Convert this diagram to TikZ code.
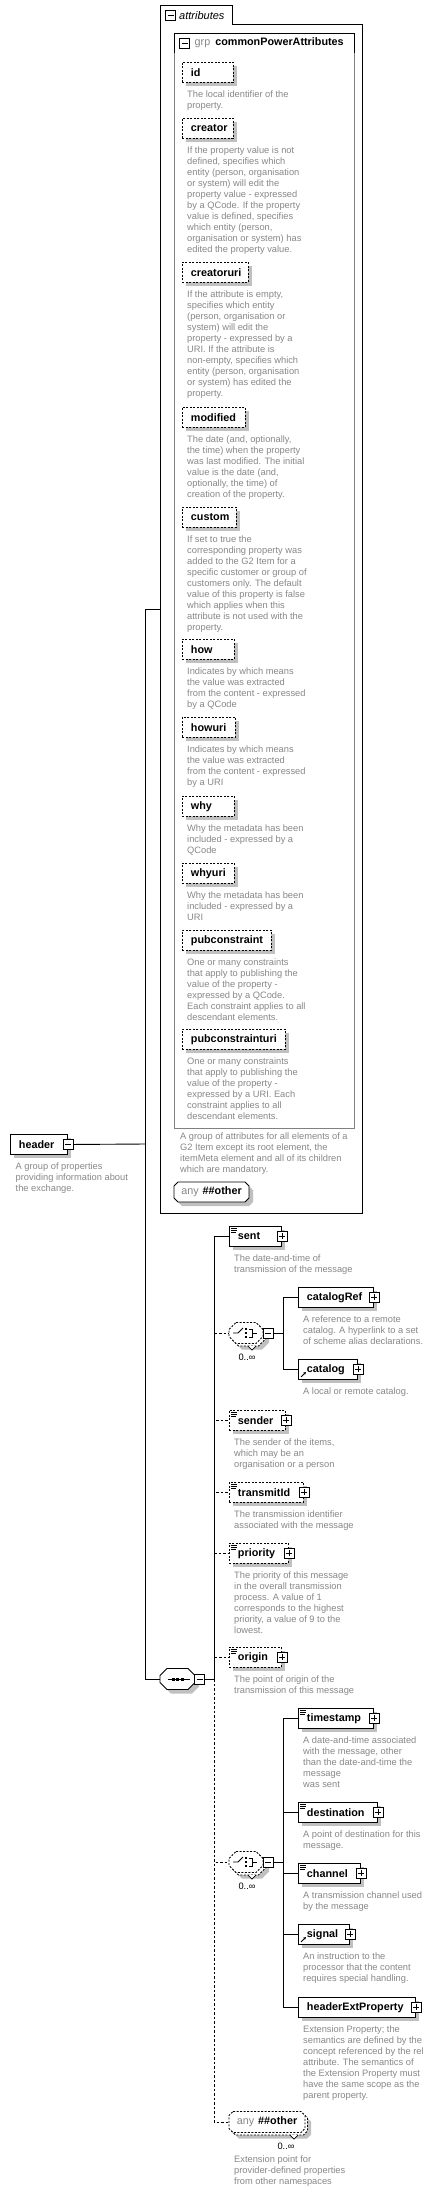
\documentclass[tikz,border=0pt]{standalone}
\usepackage{fontspec}
\setmainfont{Liberation Sans}
\usetikzlibrary{calc,positioning,shadows,arrows.meta}
\tikzset{>=Stealth}
\definecolor{descgray}{RGB}{135,135,135}
\definecolor{shadowgray}{RGB}{192,192,192}
\definecolor{boxgray}{RGB}{128,128,128}
\newcommand\descfont{\fontsize{9.3}{11}\selectfont}
\newcommand\namefont{\fontsize{10.8}{13}\selectfont\bfseries}
\newcommand\elname[2]{\makebox[#1][l]{\hspace{8.5pt}#2}}
\tikzset{
  boxshadow/.style={drop shadow={shadow xshift=4pt,shadow yshift=-4pt,fill=shadowgray,opacity=1}},
  frame/.style={line width=0.9pt},
  elem/.style={draw,line width=0.9pt,fill=white,inner sep=0pt,minimum height=20pt,anchor=north west,font=\namefont,boxshadow},
  optelem/.style={elem,dash pattern=on 2pt off 1.5pt},
  desc/.style={anchor=north west,inner sep=0pt,align=left,font=\descfont,text=descgray},
  pmbox/.style={draw,fill=white,minimum size=10pt,inner sep=0pt,line width=0.8pt},
  plusbox/.style={pmbox,path picture={\draw[line width=0.8pt] ($(path picture bounding box.center)+(-3,0)$) -- +(6,0) ($(path picture bounding box.center)+(0,-3)$) -- +(0,6);}},
  minusbox/.style={pmbox,path picture={\draw[line width=0.8pt] ($(path picture bounding box.center)+(-3,0)$) -- +(6,0);}},
  compnode/.style={inner sep=0pt,minimum height=20pt},
  compline/.style={line width=0.9pt,fill=white},
  optcompline/.style={compline,dash pattern=on 2pt off 1.5pt},
  mult/.style={inner sep=0pt,font=\descfont},
  link/.style={line width=0.9pt},
  optlink/.style={link,dash pattern=on 2.5pt off 2pt}
}
% octagon outline of compositors and wildcards: half width, half height, chamfer
\newcommand\octpath[3]{(-#1+#3,-#2) -- (#1-#3,-#2) -- (#1,-#2+#3) -- (#1,#2-#3) -- (#1-#3,#2) -- (-#1+#3,#2) -- (-#1,#2-#3) -- (-#1,-#2+#3) -- cycle}
\newcommand\compbox[5]{\begin{scope}[shift={#2}]
  \fill[shadowgray,shift={(4,4)}] \octpath{#3}{#4}{#5};
  \draw[#1] \octpath{#3}{#4}{#5};
\end{scope}}
\newcommand\stackbox[5]{\begin{scope}[shift={#2}]
  \fill[shadowgray,shift={(6,6)}] \octpath{#3}{#4}{#5};
  \draw[#1,shift={(2.5,2.5)}] \octpath{#3}{#4}{#5};
  \draw[#1] \octpath{#3}{#4}{#5};
  \draw[line width=0.7pt,fill=white] (#3-15,#4+2.5) -- ++(4,4) -- ++(4,-4);
\end{scope}}
% small glyphs inside the boxes
\newcommand\typemark[1]{\draw[line width=0.6pt] ($(#1.north west)+(2,2)$) -- ++(6,0) ($(#1.north west)+(2,4)$) -- ++(6,0) ($(#1.north west)+(2,6)$) -- ++(5,0);}
\newcommand\refmark[1]{\draw[-{Stealth[length=3pt,width=3pt]},line width=0.9pt] ($(#1.south west)+(3,-3)$) -- ++(5,-5);}
\newcommand\seqicon[1]{\draw[line width=0.9pt] ($(#1)+(-10,0)$) -- ($(#1)+(12,0)$);
  \foreach \d in {-4.5,0,4.5} {\fill ($(#1)+(\d,0)+(-1.5,-1.5)$) rectangle +(3,3);}}
\newcommand\choiceicon[1]{\draw[line width=0.9pt] ($(#1)+(-13,0)$) -- ($(#1)+(-8,0)$) -- ($(#1)+(-3,-5)$);
  \foreach \d in {-4,0,4} {\fill ($(#1)+(-1.2,\d)+(0,-1.2)$) rectangle +(2.5,2.5);}
  \draw[line width=0.9pt] ($(#1)+(3,-4)$) -- ($(#1)+(6,-4)$) -- ($(#1)+(6,4)$) -- ($(#1)+(3,4)$) ($(#1)+(6,0)$) -- ($(#1)+(11,0)$);}

\begin{document}
\begin{tikzpicture}[x=1pt,y=-1pt]
\useasboundingbox (0,0) rectangle (436,2193);

% attributes frame
\draw[frame] (160,5) -- (232,5) -- (232,24) -- (362,24) -- (362,1213) -- (160,1213) -- cycle;
\node[minusbox] (attm) at (170.5,15.5) {};
\node[anchor=west,inner sep=0pt,font=\fontsize{11}{13}\selectfont\itshape] (attt) at (179,15.5) {attributes};
\coordinate (attin) at (160,609);

% group of attributes
\draw[frame,draw=boxgray] (174,33) rectangle (354,1128);
\draw[frame] (174,53) -- (174,33) -- (354,33) -- (354,53);
\node[minusbox] (grpm) at (184.5,43) {};
\node[anchor=west,inner sep=0pt,font=\namefont] (grpt) at (194.5,43) {{\mdseries\color{descgray}grp}\hspace{5pt}commonPowerAttributes};

\node[optelem] (id) at (182,62) {\elname{51pt}{id}};
\node[desc] (idd) at ($(id.south west)+(5,8)$) {The local identifier of the\\property.};
\node[optelem] (creator) at (182,118) {\elname{51pt}{creator}};
\node[desc] (creatord) at ($(creator.south west)+(5,8)$) {If the property value is not\\defined, specifies which\\entity (person, organisation\\or system) will edit the\\property value - expressed\\by a QCode. If the property\\value is defined, specifies\\which entity (person,\\organisation or system) has\\edited the property value.};
\node[optelem] (creatoruri) at (182,262) {\elname{66pt}{creatoruri}};
\node[desc] (creatorurid) at ($(creatoruri.south west)+(5,8)$) {If the attribute is empty,\\specifies which entity\\(person, organisation or\\system) will edit the\\property - expressed by a\\URI. If the attribute is\\non-empty, specifies which\\entity (person, organisation\\or system) has edited the\\property.};
\node[optelem] (modified) at (182,407) {\elname{63pt}{modified}};
\node[desc] (modifiedd) at ($(modified.south west)+(5,8)$) {The date (and, optionally,\\the time) when the property\\was last modified. The initial\\value is the date (and,\\optionally, the time) of\\creation of the property.};
\node[optelem] (custom) at (182,507) {\elname{54pt}{custom}};
\node[desc] (customd) at ($(custom.south west)+(5,8)$) {If set to true the\\corresponding property was\\added to the G2 Item for a\\specific customer or group of\\customers only. The default\\value of this property is false\\which applies when this\\attribute is not used with the\\property.};
\node[optelem] (how) at (182,639) {\elname{52pt}{how}};
\node[desc] (howd) at ($(how.south west)+(5,8)$) {Indicates by which means\\the value was extracted\\from the content - expressed\\by a QCode};
\node[optelem] (howuri) at (182,717) {\elname{53pt}{howuri}};
\node[desc] (howurid) at ($(howuri.south west)+(5,8)$) {Indicates by which means\\the value was extracted\\from the content - expressed\\by a URI};
\node[optelem] (why) at (182,796) {\elname{52pt}{why}};
\node[desc] (whyd) at ($(why.south west)+(5,8)$) {Why the metadata has been\\included - expressed by a\\QCode};
\node[optelem] (whyuri) at (182,863) {\elname{52pt}{whyuri}};
\node[desc] (whyurid) at ($(whyuri.south west)+(5,8)$) {Why the metadata has been\\included - expressed by a\\URI};
\node[optelem] (pubc) at (182,930) {\elname{89pt}{pubconstraint}};
\node[desc] (pubcd) at ($(pubc.south west)+(5,8)$) {One or many constraints\\that apply to publishing the\\value of the property -\\expressed by a QCode.\\Each constraint applies to all\\descendant elements.};
\node[optelem] (pubcuri) at (182,1029) {\elname{103pt}{pubconstrainturi}};
\node[desc] (pubcurid) at ($(pubcuri.south west)+(5,8)$) {One or many constraints\\that apply to publishing the\\value of the property -\\expressed by a URI. Each\\constraint applies to all\\descendant elements.};
\node[desc] (grpd) at (180,1133) {A group of attributes for all elements of a\\G2 Item except its root element, the\\itemMeta element and all of its children\\which are mandatory.};
\compbox{compline}{(211.5,1192)}{37.5}{10}{4}
\node[compnode,minimum width=75pt,font=\namefont] (anyatt) at (211.5,1192) {{\mdseries\color{descgray}any}\hspace{4pt}\#\#other};

% header element
\node[elem] (hdr) at (10,1134) {\elname{57pt}{header}};
\node[minusbox] (hdrm) at (hdr.east) {};
\node[desc] (hdrd) at ($(hdr.south west)+(5.5,8)$) {A group of properties\\providing information about\\the exchange.};

% sequence
\compbox{compline}{(177.5,1679)}{17.5}{10.5}{7}
\node[compnode,minimum width=35pt] (seq) at (177.5,1679) {};
\seqicon{seq}
\node[minusbox] (seqm) at ($(seq.east)+(4.5,0)$) {};
\coordinate (hub) at (145,1144);
\coordinate (spine) at (214,1679);
\draw[link] (hdrm.east) -- (hub);
\draw[link] (hub) |- (attin);
\draw[link] (hub) |- (seq.west);
\draw[link] (seqm.east) -- (spine);

% children of the sequence
\node[elem] (sent) at (229,1226) {\elname{52pt}{sent}};
\node[plusbox] (sentp) at (sent.east) {};
\typemark{sent}
\node[desc] (sentd) at ($(sent.south west)+(5,8)$) {The date-and-time of\\transmission of the message};

\stackbox{optcompline}{(246,1333)}{17}{10.5}{7}
\node[compnode,minimum width=34pt] (cha) at (246,1333) {};
\choiceicon{cha}
\node[minusbox] (cham) at ($(cha.east)+(5,0)$) {};
\node[mult] (chan) at (247,1357) {0..∞};
\coordinate (chabar) at (283,1333);
\draw[link] (cham.east) -- (chabar);

\node[elem] (catref) at (298,1287) {\elname{75pt}{catalogRef}};
\node[plusbox] (catrefp) at (catref.east) {};
\node[desc] (catrefd) at ($(catref.south west)+(5,8)$) {A reference to a remote\\catalog. A hyperlink to a set\\of scheme alias declarations.};
\node[elem] (catalog) at (298,1359) {\elname{59pt}{catalog}};
\node[plusbox] (catalogp) at (catalog.east) {};
\refmark{catalog}
\node[desc] (catalogd) at ($(catalog.south west)+(5,8)$) {A local or remote catalog.};
\draw[link] (chabar) |- (catref.west);
\draw[link] (chabar) |- (catalog.west);

\node[optelem] (sender) at (229,1410) {\elname{56pt}{sender}};
\node[plusbox] (senderp) at (sender.east) {};
\typemark{sender}
\node[desc] (senderd) at ($(sender.south west)+(5,8)$) {The sender of the items,\\which may be an\\organisation or a person};
\node[optelem] (trid) at (229,1482) {\elname{74pt}{transmitId}};
\node[plusbox] (tridp) at (trid.east) {};
\typemark{trid}
\node[desc] (tridd) at ($(trid.south west)+(5,8)$) {The transmission identifier\\associated with the message};
\node[optelem] (prio) at (229,1543) {\elname{59pt}{priority}};
\node[plusbox] (priop) at (prio.east) {};
\typemark{prio}
\node[desc] (priod) at ($(prio.south west)+(5,8)$) {The priority of this message\\in the overall transmission\\process. A value of 1\\corresponds to the highest\\priority, a value of 9 to the\\lowest.};
\node[optelem] (origin) at (229,1647) {\elname{52pt}{origin}};
\node[plusbox] (originp) at (origin.east) {};
\typemark{origin}
\node[desc] (origind) at ($(origin.south west)+(5,8)$) {The point of origin of the\\transmission of this message};

\stackbox{optcompline}{(246,1862)}{17}{10.5}{7}
\node[compnode,minimum width=34pt] (chb) at (246,1862) {};
\choiceicon{chb}
\node[minusbox] (chbm) at ($(chb.east)+(5,0)$) {};
\node[mult] (chbn) at (247,1886) {0..∞};
\coordinate (chbbar) at (283,1862);
\draw[link] (chbm.east) -- (chbbar);

\node[elem] (tstamp) at (298,1708) {\elname{75pt}{timestamp}};
\node[plusbox] (tstampp) at (tstamp.east) {};
\typemark{tstamp}
\node[desc] (tstampd) at ($(tstamp.south west)+(5,8)$) {A date-and-time associated\\with the message, other\\than the date-and-time the\\message\\was sent};
\node[elem] (dest) at (298,1802) {\elname{79pt}{destination}};
\node[plusbox] (destp) at (dest.east) {};
\typemark{dest}
\node[desc] (destd) at ($(dest.south west)+(5,8)$) {A point of destination for this\\message.};
\node[elem] (chnl) at (298,1863) {\elname{62pt}{channel}};
\node[plusbox] (chnlp) at (chnl.east) {};
\typemark{chnl}
\node[desc] (chnld) at ($(chnl.south west)+(5,8)$) {A transmission channel used\\by the message};
\node[elem] (signal) at (298,1924) {\elname{51pt}{signal}};
\node[plusbox] (signalp) at (signal.east) {};
\refmark{signal}
\node[desc] (signald) at ($(signal.south west)+(5,8)$) {An instruction to the\\processor that the content\\requires special handling.};
\node[elem] (hext) at (298,1997) {\elname{117pt}{headerExtProperty}};
\node[plusbox] (hextp) at (hext.east) {};
\node[desc] (hextd) at ($(hext.south west)+(5,8)$) {Extension Property; the\\semantics are defined by the\\concept referenced by the rel\\attribute. The semantics of\\the Extension Property must\\have the same scope as the\\parent property.};
\foreach \n in {tstamp,dest,chnl,signal,hext} \draw[link] (chbbar) |- (\n.west);

\stackbox{optcompline}{(267,2122)}{38}{10.5}{4}
\node[compnode,minimum width=76pt,font=\namefont] (anyel) at (267,2122) {{\mdseries\color{descgray}any}\hspace{4pt}\#\#other};
\node[mult] (anyn) at (286,2146) {0..∞};
\node[desc] (anyd) at (234,2156) {Extension point for\\provider-defined properties\\from other namespaces};

% connectors from the spine
\draw[link] (spine) |- (sent.west);
\foreach \n in {cha,sender,trid,prio,origin,chb,anyel} \draw[optlink] (spine) |- (\n.west);
\end{tikzpicture}
\end{document}
